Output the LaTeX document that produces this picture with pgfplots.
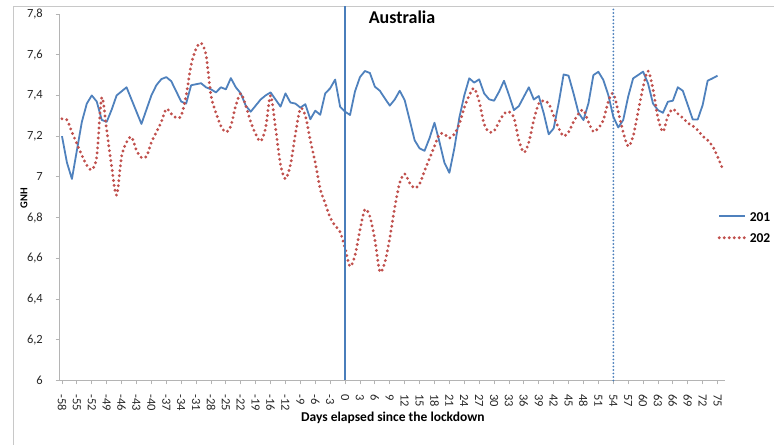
\documentclass[border=0pt]{standalone}
\usepackage{fontspec}
\setmainfont{Carlito}
\usepackage{pgfplots}
\pgfplotsset{compat=1.18}

\definecolor{serA}{HTML}{4F81BD}
\definecolor{serB}{HTML}{C0504D}
\definecolor{refline}{HTML}{4A7EBB}
\definecolor{framegray}{HTML}{C8C8C8}
\definecolor{axisgray}{HTML}{B4B4B4}

\begin{document}
\begin{tikzpicture}[x=1bp,y=1bp]
\useasboundingbox (0,0) rectangle (774,445);
% chart area border
\draw[framegray, line width=0.8bp] (13,0) -- (13,439) -- (774,439);
\begin{axis}[
  at={(59.5bp,64.5bp)}, anchor=south west,
  scale only axis, width=665.5bp, height=366.5bp,
  xmin=-0.5, xmax=133.5, ymin=6, ymax=7.8,
  clip=false,
  axis lines*=left,
  axis line style={draw=axisgray, line width=0.8bp},
  tick style={draw=axisgray, line width=0.8bp},
  tick align=outside, major tick length=4bp,
  xtick={0,3,6,9,12,15,18,21,24,27,30,33,36,39,42,45,48,51,54,57,60,63,66,69,72,75,78,81,84,87,90,93,96,99,102,105,108,111,114,117,120,123,126,129,132},
  xticklabels={-58,-55,-52,-49,-46,-43,-40,-37,-34,-31,-28,-25,-22,-19,-16,-12,-9,-6,-3,0,3,6,9,12,15,18,21,24,27,30,33,36,39,42,45,48,51,54,57,60,63,66,69,72,75},
  ytick={6,6.2,6.4,6.6,6.8,7,7.2,7.4,7.6,7.8},
  yticklabels={6,{6,2},{6,4},{6,6},{6,8},7,{7,2},{7,4},{7,6},{7,8}},
  ticklabel style={font=\fontsize{12.5bp}{14bp}\selectfont, text=black!85},
  xticklabel style={rotate=-90, anchor=west, inner xsep=9.5bp, inner ysep=0pt},
  yticklabel style={anchor=east, inner xsep=12.5bp, inner ysep=0pt},
  xlabel={Days elapsed since the lockdown},
  xlabel style={at={(axis description cs:0.501,-0.102)}, anchor=center,
    font=\bfseries\fontsize{13.5bp}{16bp}\selectfont},
  ylabel={GNH},
  ylabel style={at={(axis description cs:-0.0533,0.498)}, anchor=center,
    font=\bfseries\fontsize{10.5bp}{12bp}\selectfont},
  title={Australia},
  title style={at={(axis description cs:0.5147,0.959)}, anchor=base,
    font=\bfseries\fontsize{18bp}{20bp}\selectfont},
  legend image code/.code={\draw[#1] (0bp,0bp) -- (26bp,0bp);},
  legend style={draw=none, fill=none, at={(axis description cs:0.9885,0.4188)},
    anchor=west, inner sep=0pt, row sep=12bp,
    font=\bfseries\fontsize{13.5bp}{16bp}\selectfont,
    nodes={inner sep=0pt, text height=9.5bp, text depth=0pt},
    /tikz/every odd column/.append style={column sep=3bp}},
  legend cell align=left,
]
% 2019
\addplot[serA, line width=1.8bp, line join=round, mark=none] coordinates {
(0,7.20) (1,7.07) (2,6.99) (3,7.13) (4,7.27) (5,7.36) (6,7.40) (7,7.37)
(8,7.28) (9,7.27) (10,7.33) (11,7.40) (12,7.42) (13,7.44) (14,7.38) (15,7.32)
(16,7.26) (17,7.33) (18,7.40) (19,7.45) (20,7.48) (21,7.49) (22,7.47) (23,7.42)
(24,7.37) (25,7.36) (26,7.45) (27,7.455) (28,7.46) (29,7.44) (30,7.43) (31,7.415)
(32,7.44) (33,7.43) (34,7.485) (35,7.44) (36,7.41) (37,7.35) (38,7.32) (39,7.35)
(40,7.38) (41,7.40) (42,7.415) (43,7.38) (44,7.345) (45,7.41) (46,7.365) (47,7.36)
(48,7.34) (49,7.357) (50,7.283) (51,7.325) (52,7.305) (53,7.41) (54,7.435) (55,7.478)
(56,7.345) (57,7.32) (58,7.304) (59,7.42) (60,7.49) (61,7.52) (62,7.51) (63,7.443)
(64,7.423) (65,7.386) (66,7.35) (67,7.38) (68,7.423) (69,7.377) (70,7.28) (71,7.18)
(72,7.14) (73,7.128) (74,7.19) (75,7.266) (76,7.172) (77,7.07) (78,7.02) (79,7.14)
(80,7.29) (81,7.40) (82,7.484) (83,7.463) (84,7.479) (85,7.41) (86,7.381) (87,7.374)
(88,7.418) (89,7.472) (90,7.402) (91,7.328) (92,7.348) (93,7.394) (94,7.44) (95,7.38)
(96,7.397) (97,7.312) (98,7.209) (99,7.238) (100,7.361) (101,7.503) (102,7.497) (103,7.41)
(104,7.315) (105,7.279) (106,7.361) (107,7.50) (108,7.516) (109,7.476) (110,7.402) (111,7.296)
(112,7.243) (113,7.279) (114,7.394) (115,7.484) (116,7.50) (117,7.517) (118,7.459) (119,7.36)
(120,7.328) (121,7.315) (122,7.369) (123,7.374) (124,7.44) (125,7.423) (126,7.353) (127,7.282)
(128,7.282) (129,7.353) (130,7.472) (131,7.484) (132,7.497)
};
\addlegendentry{201}
% 2020
\addplot[serB, line width=3.2bp, line cap=round, dash pattern=on 0bp off 5bp,
  smooth, mark=none] coordinates {
(0,7.285) (1,7.28) (2,7.22) (3,7.163) (4,7.106) (5,7.057) (6,7.035) (7,7.10)
(8,7.39) (9,7.23) (10,7.05) (11,6.91) (12,7.10) (13,7.17) (14,7.196) (15,7.13)
(16,7.095) (17,7.10) (18,7.17) (19,7.22) (20,7.27) (21,7.334) (22,7.31) (23,7.29)
(24,7.30) (25,7.40) (26,7.55) (27,7.63) (28,7.657) (29,7.60) (30,7.40) (31,7.315)
(32,7.25) (33,7.22) (34,7.25) (35,7.35) (36,7.41) (37,7.35) (38,7.27) (39,7.21)
(40,7.175) (41,7.24) (42,7.40) (43,7.24) (44,7.06) (45,6.99) (46,7.06) (47,7.21)
(48,7.335) (49,7.30) (50,7.18) (51,7.07) (52,6.94) (53,6.87) (54,6.80) (55,6.76)
(56,6.73) (57,6.65) (58,6.56) (59,6.616) (60,6.74) (61,6.84) (62,6.805) (63,6.69)
(64,6.535) (65,6.58) (66,6.70) (67,6.85) (68,6.97) (69,7.015) (70,6.97) (71,6.945)
(72,6.965) (73,7.03) (74,7.09) (75,7.15) (76,7.21) (77,7.21) (78,7.19) (79,7.21)
(80,7.26) (81,7.34) (82,7.40) (83,7.435) (84,7.37) (85,7.26) (86,7.22) (87,7.225)
(88,7.27) (89,7.31) (90,7.32) (91,7.29) (92,7.18) (93,7.12) (94,7.17) (95,7.28)
(96,7.36) (97,7.374) (98,7.36) (99,7.30) (100,7.24) (101,7.20) (102,7.22) (103,7.27)
(104,7.31) (105,7.328) (106,7.27) (107,7.222) (108,7.24) (109,7.28) (110,7.37) (111,7.41)
(112,7.32) (113,7.22) (114,7.15) (115,7.20) (116,7.32) (117,7.44) (118,7.52) (119,7.43)
(120,7.29) (121,7.222) (122,7.30) (123,7.333) (124,7.31) (125,7.29) (126,7.265) (127,7.25)
(128,7.23) (129,7.20) (130,7.18) (131,7.15) (132,7.10) (133,7.04)
};
\addlegendentry{202}
% lockdown day and day 54 markers
\addplot[refline, line width=2.6bp, forget plot] coordinates {(57,6) (57,7.839)};
\addplot[refline, line width=2bp, line cap=round, dash pattern=on 0bp off 3.5bp,
  forget plot] coordinates {(111,6) (111,7.839)};
\end{axis}
\end{tikzpicture}
\end{document}
